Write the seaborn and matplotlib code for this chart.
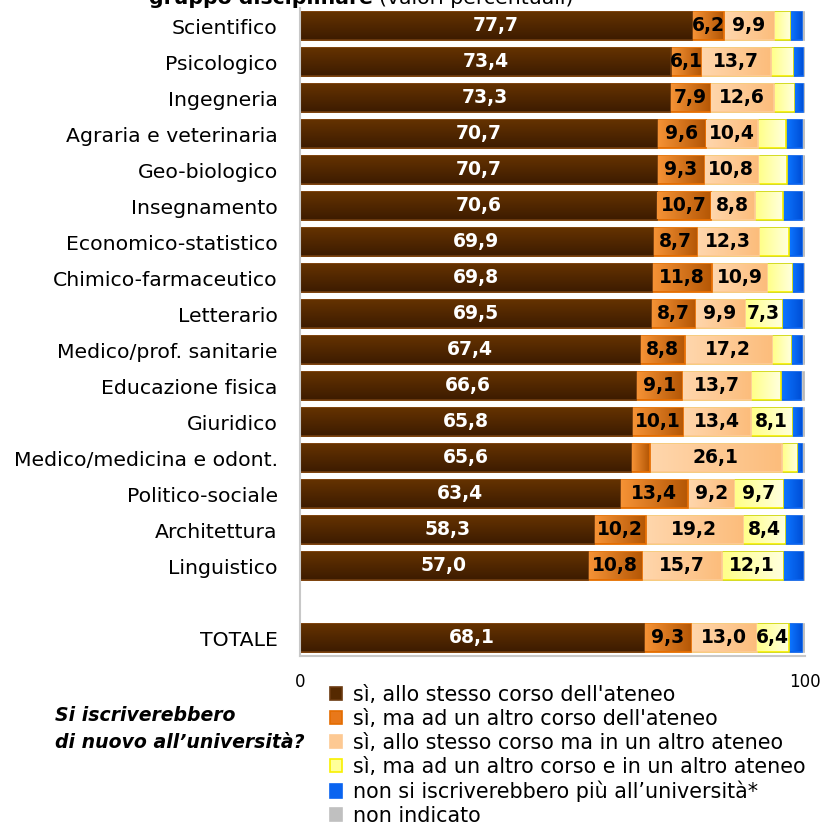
import matplotlib
matplotlib.use("Agg")
import matplotlib.pyplot as plt
from matplotlib.colors import LinearSegmentedColormap
from matplotlib.patches import Patch
import numpy as np
import pandas as pd
import seaborn as sns

# gruppi disciplinari (TOTALE in fondo, separato da una riga vuota)
gruppi = [
    "Scientifico", "Psicologico", "Ingegneria", "Agraria e veterinaria",
    "Geo-biologico", "Insegnamento", "Economico-statistico",
    "Chimico-farmaceutico", "Letterario", "Medico/prof. sanitarie",
    "Educazione fisica", "Giuridico", "Medico/medicina e odont.",
    "Politico-sociale", "Architettura", "Linguistico", "TOTALE",
]

# valori percentuali per risposta
stesso_corso_ateneo = [77.7, 73.4, 73.3, 70.7, 70.7, 70.6, 69.9, 69.8, 69.5,
                       67.4, 66.6, 65.8, 65.6, 63.4, 58.3, 57.0, 68.1]
altro_corso_ateneo = [6.2, 6.1, 7.9, 9.6, 9.3, 10.7, 8.7, 11.8, 8.7,
                      8.8, 9.1, 10.1, 3.7, 13.4, 10.2, 10.8, 9.3]
stesso_corso_altro_ateneo = [9.9, 13.7, 12.6, 10.4, 10.8, 8.8, 12.3, 10.9, 9.9,
                             17.2, 13.7, 13.4, 26.1, 9.2, 19.2, 15.7, 13.0]
altro_corso_altro_ateneo = [3.3, 4.4, 4.0, 5.5, 5.7, 5.5, 5.9, 5.0, 7.3,
                            3.8, 5.9, 8.1, 3.0, 9.7, 8.4, 12.1, 6.4]
non_iscriverebbero = [2.4, 2.1, 1.8, 3.3, 2.9, 3.8, 2.7, 2.2, 4.1,
                      2.2, 4.0, 2.1, 1.1, 3.8, 3.4, 4.0, 2.7]
non_indicato = [0.5, 0.3, 0.4, 0.5, 0.6, 0.6, 0.5, 0.3, 0.5,
                0.6, 0.7, 0.5, 0.5, 0.5, 0.5, 0.4, 0.5]

risposte = [
    "sì, allo stesso corso dell'ateneo",
    "sì, ma ad un altro corso dell'ateneo",
    "sì, allo stesso corso ma in un altro ateneo",
    "sì, ma ad un altro corso e in un altro ateneo",
    "non si iscriverebbero più all’università*",
    "non indicato",
]

serie = [stesso_corso_ateneo, altro_corso_ateneo, stesso_corso_altro_ateneo,
         altro_corso_altro_ateneo, non_iscriverebbero, non_indicato]

facecolors = ["#552900", "#E8781A", "#FDC993", "#FFFF99", "#0A64F0", "#C0C0C0"]
edgecolors = ["#6B3A10", "#E46C00", "#FDC993", "#F8F000", "#0A64F0", "#C0C0C0"]
text_colors = ["white", "black", "black", "black", "black", "black"]
# sfumature (inizio, fine, direzione) per imitare le barre "3D"
sfumature = [
    ("#643200", "#3E1C00", "v"),
    ("#F59235", "#B65806", "h"),
    ("#FFD6AC", "#FCBD7C", "h"),
    ("#FFFF8A", "#FFFFDC", "h"),
    ("#0C74FF", "#0050D8", "h"),
    ("#CFCFCF", "#B0B0B0", "h"),
]

BLANK = " "
order = gruppi[:-1] + [BLANK, gruppi[-1]]
BAR_W = 0.8

df = pd.DataFrame({"gruppo": gruppi})
cum = np.zeros(len(gruppi))
lefts = []
for name, vals in zip(risposte, serie):
    lefts.append(cum.copy())
    cum = cum + np.array(vals)
    df[name] = cum

sns.set_style("white")
plt.rcParams["font.family"] = ["DejaVu Sans"]
plt.rcParams["text.color"] = "black"
plt.rcParams["xtick.color"] = "black"
plt.rcParams["ytick.color"] = "black"

fig = plt.figure(figsize=(8.21, 8.31), dpi=100)
ax = fig.add_axes([300 / 821, 1 - 656 / 831, 505 / 821, 648 / 831])

# barre impilate: cumulate disegnate dalla più lunga alla più corta
for i in reversed(range(len(risposte))):
    sns.barplot(data=df, x=risposte[i], y="gruppo", order=order, orient="h",
                color=facecolors[i], saturation=1, edgecolor=edgecolors[i],
                linewidth=1.2, width=BAR_W, errorbar=None, ax=ax)

pos = {g: order.index(g) for g in gruppi}

# riempimento sfumato dentro ogni segmento (lascia visibile il bordo)
dx, dy = 0.18, 0.03
for i, vals in enumerate(serie):
    c0, c1, direzione = sfumature[i]
    cmap = LinearSegmentedColormap.from_list(f"s{i}", [c0, c1])
    ramp = np.linspace(0, 1, 64)
    img = ramp.reshape(-1, 1) if direzione == "v" else ramp.reshape(1, -1)
    for g, v, left in zip(gruppi, vals, lefts[i]):
        if v <= 2 * dx:
            continue
        y = pos[g]
        ax.imshow(img, cmap=cmap, aspect="auto", interpolation="bilinear",
                  extent=(left + dx, left + v - dx,
                          y + BAR_W / 2 - dy, y - BAR_W / 2 + dy),
                  zorder=1.5)

for i, vals in enumerate(serie):
    soglia = 6.0 if i < 4 else 100
    for g, v, left in zip(gruppi, vals, lefts[i]):
        if v >= soglia:
            ax.text(left + v / 2, pos[g], f"{v:.1f}".replace(".", ","),
                    ha="center", va="center", fontsize=13.5, fontweight="bold",
                    color=text_colors[i], zorder=3)

ax.set_xlim(0, 100)
ax.set_ylim(len(order) - 0.5, -0.5)
ax.set_xticks([0, 100])
ax.set_xticklabels(["0", "100"])
ax.set_xlabel("")
ax.set_ylabel("")
ax.tick_params(axis="x", length=0, pad=12, labelsize=12)
ax.tick_params(axis="y", length=0, pad=16, labelsize=14.7)
for side in ["top", "right"]:
    ax.spines[side].set_visible(False)
for side in ["left", "bottom"]:
    ax.spines[side].set_color("#C8C8C8")
    ax.spines[side].set_linewidth(1.5)

fig.text(373 / 821, 1 - 4 / 831, "gruppo disciplinare", ha="right",
         va="baseline", fontsize=14.7, fontweight="bold")
fig.text(379 / 821, 1 - 4 / 831, "(valori percentuali)", ha="left",
         va="baseline", fontsize=14.7)

fig.text(55 / 821, 1 - 729 / 831, "Si iscriverebbero\ndi nuovo all’università?",
         ha="left", va="center", fontsize=13.6, fontweight="bold",
         fontstyle="italic", linespacing=1.48)

handles = [Patch(facecolor=fc, edgecolor=ec, linewidth=1.2)
           for fc, ec in zip(facecolors, edgecolors)]
fig.legend(handles, risposte, loc="upper left",
           bbox_to_anchor=(330 / 821, 1 - 685 / 831), frameon=False,
           fontsize=14.9, handlelength=0.6, handleheight=0.6,
           handletextpad=0.5, labelspacing=0.19, borderpad=0, borderaxespad=0)

fig.savefig("out.png", dpi=100)
